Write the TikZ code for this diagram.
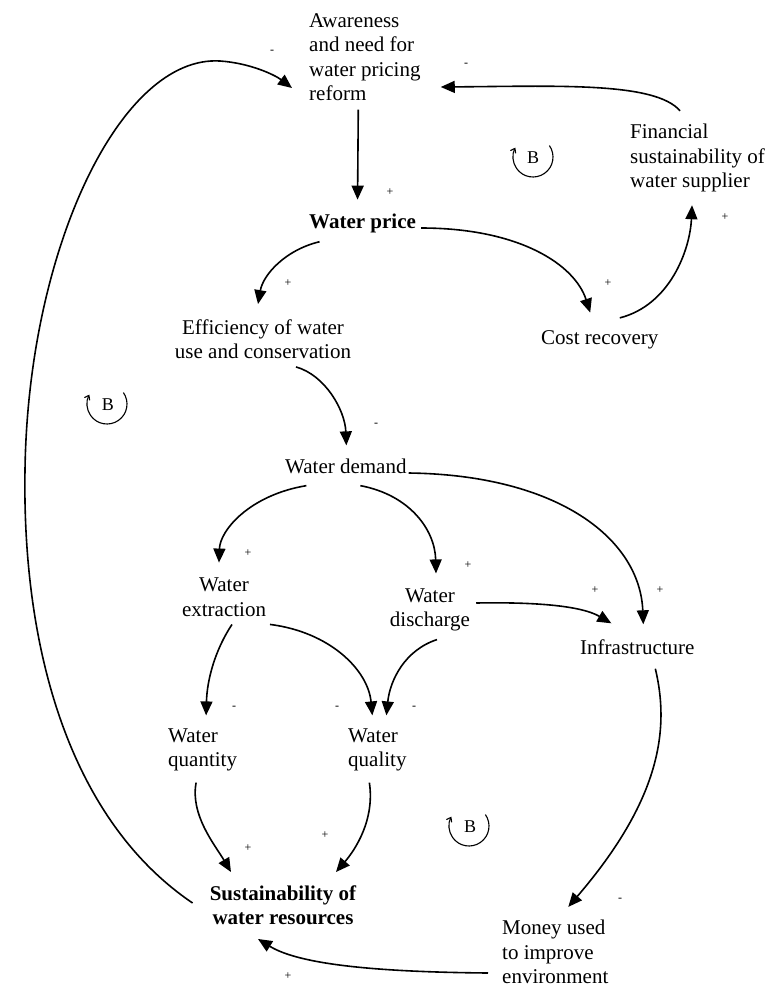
\documentclass[tikz,border=0pt]{standalone}
\usepackage{fontspec}
\setmainfont{Liberation Serif}
\usetikzlibrary{arrows.meta,calc}
\begin{document}
\begin{tikzpicture}[x=1pt,y=-1pt,
  lbl/.style={inner sep=0pt, font=\fontsize{21}{24.5}\selectfont},
  blbl/.style={inner sep=0pt, font=\fontsize{21}{24.5}\selectfont\bfseries},
  sgn/.style={inner sep=0pt, font=\fontsize{12}{12}\selectfont},
  bsym/.style={inner sep=0pt, font=\fontsize{18}{18}\selectfont},
  link/.style={line width=1.6pt, -{Triangle[length=14pt,width=12pt]}},
  loopsym/.style={line width=1.1pt, -{Straight Barb[length=4pt,width=6pt]}},
]
\useasboundingbox (0,0) rectangle (784,989);

% nodes
\node[lbl, anchor=west, align=left] (aw) at (309,57) {Awareness\\and need for\\water pricing\\reform};
\node[blbl, anchor=west] (wp) at (309,223) {Water price};
\node[lbl, anchor=west, align=left] (fin) at (630,158) {Financial\\sustainability of\\water supplier};
\node[lbl, anchor=west] (cr) at (541,340) {Cost recovery};
\node[lbl, align=center] (eff) at (263,339) {Efficiency of water\\use and conservation};
\node[lbl, anchor=west] (wd) at (285,466) {Water demand};
\node[lbl, align=center] (ext) at (224,597) {Water\\extraction};
\node[lbl, align=center] (dis) at (430,610) {Water\\discharge};
\node[lbl, anchor=west] (inf) at (580,647) {Infrastructure};
\node[lbl, anchor=west, align=left] (qty) at (168,750) {Water\\quantity};
\node[lbl, anchor=west, align=left] (qly) at (348,750) {Water\\quality};
\node[blbl, align=center] (sus) at (283,905) {Sustainability of\\water resources};
\node[lbl, anchor=west, align=left] (mon) at (502,952) {Money used\\to improve\\environment};

% connectors
\draw[link] ([shift={(-6.6,8.7)}]aw.south) -- ([shift={(-5,-13.6)}]wp.north);
\draw[link] ([shift={(-17,-2)}]sus.west) .. controls (70,820) and (22,650) .. (25,470)
   .. controls (28,250) and (120,55) .. (220,61)
   .. controls (250,63) and (275,75) .. ([shift={(-17,31)}]aw.west);
\draw[link] ([shift={(-17.5,-13)}]fin.north) .. controls (655,82) and (560,86) .. ([shift={(20,30)}]aw.east);
\draw[link] ([shift={(5,5)}]wp.east) .. controls (520,228) and (575,265) .. ([shift={(-9.6,-18)}]cr.north);
\draw[link] ([shift={(20,-12.7)}]cr.north) .. controls (670,305) and (690,250) .. ([shift={(-5.5,13)}]fin.south);
\draw[link] ([shift={(-43,9)}]wp.south) .. controls (285,250) and (263,275) .. ([shift={(-5,-15)}]eff.north);
\draw[link] ([shift={(33,8)}]eff.south) .. controls (325,375) and (345,410) .. ([shift={(0.5,-13)}]wd.north);
\draw[link] ([shift={(-39.5,12)}]wd.south) .. controls (250,495) and (220,530) .. ([shift={(-5,-15)}]ext.north);
\draw[link] ([shift={(14.5,12)}]wd.south) .. controls (410,495) and (435,530) .. ([shift={(6,-15)}]dis.north);
\draw[link] ([shift={(2,7)}]wd.east) .. controls (560,475) and (640,540) .. ([shift={(6,-15)}]inf.north);
\draw[link] ([shift={(6,-7)}]dis.east) .. controls (530,602) and (580,605) .. ([shift={(-26,-16)}]inf.north);
\draw[link] ([shift={(8,8)}]ext.south) .. controls (215,650) and (207,680) .. ([shift={(3.5,-13)}]qty.north);
\draw[link] ([shift={(46,8)}]ext.south) .. controls (330,632) and (368,670) .. ([shift={(-5,-13)}]qly.north);
\draw[link] ([shift={(7,8)}]dis.south) .. controls (405,650) and (390,680) .. ([shift={(9,-13)}]qly.north);
\draw[link] ([shift={(-6.5,11)}]qty.south) .. controls (190,815) and (215,845) .. ([shift={(-52,-13)}]sus.north);
\draw[link] ([shift={(-8,11)}]qly.south) .. controls (375,820) and (355,850) .. ([shift={(53,-13)}]sus.north);
\draw[link] ([shift={(18,14)}]inf.south) .. controls (670,730) and (660,800) .. ([shift={(13,-13)}]mon.north);
\draw[link] ([shift={(-14,21)}]mon.west) .. controls (380,972) and (300,965) .. ([shift={(-25,14)}]sus.south);

% loop symbols
\node[bsym] (b1) at (533,158) {B};
\node[bsym] (b2) at (108,405) {B};
\node[bsym] (b3) at (470,827) {B};
\begin{scope}[shift={(533,157)},y=1pt]
\draw[loopsym] (35:20) arc[start angle=35,end angle=-208,radius=20];
\end{scope}
\begin{scope}[shift={(107,404)},y=1pt]
\draw[loopsym] (35:20) arc[start angle=35,end angle=-208,radius=20];
\end{scope}
\begin{scope}[shift={(469,826)},y=1pt]
\draw[loopsym] (35:20) arc[start angle=35,end angle=-208,radius=20];
\end{scope}

% signs
\node[sgn] (s1) at (272,52) {-};
\node[sgn] (s2) at (466,65) {-};
\node[sgn] (s3) at (390,192) {+};
\node[sgn] (s4) at (288,283) {+};
\node[sgn] (s5) at (608,283) {+};
\node[sgn] (s6) at (725,217) {+};
\node[sgn] (s7) at (376,425) {-};
\node[sgn] (s8) at (248,553) {+};
\node[sgn] (s9) at (468,565) {+};
\node[sgn] (s10) at (595,590) {+};
\node[sgn] (s11) at (660,590) {+};
\node[sgn] (s12) at (234,708) {-};
\node[sgn] (s13) at (337,708) {-};
\node[sgn] (s14) at (414,708) {-};
\node[sgn] (s15) at (248,848) {+};
\node[sgn] (s16) at (325,835) {+};
\node[sgn] (s17) at (620,900) {-};
\node[sgn] (s18) at (288,976) {+};
\end{tikzpicture}
\end{document}
